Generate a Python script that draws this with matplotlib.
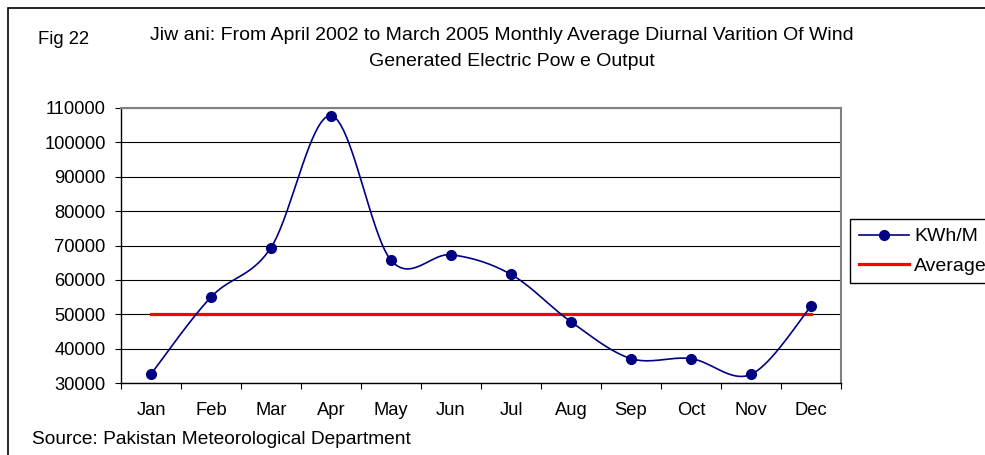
import numpy as np
import matplotlib
matplotlib.use("Agg")
import matplotlib.pyplot as plt
from matplotlib.patches import Rectangle

plt.rcParams['font.family'] = ['Liberation Sans', 'DejaVu Sans']

# data
months = ["Jan", "Feb", "Mar", "Apr", "May", "Jun",
          "Jul", "Aug", "Sep", "Oct", "Nov", "Dec"]
kwh = [32600, 55000, 69400, 107800, 65700, 67300,
       61600, 47800, 37100, 37100, 32500, 52300]
average = [50000] * 12
yticks = list(range(30000, 110001, 10000))


# Excel style smoothed line (Catmull-Rom through the points)
def smooth(x, y, n=20):
    x = np.asarray(x, float)
    y = np.asarray(y, float)
    px = np.concatenate([[x[0]], x, [x[-1]]])
    py = np.concatenate([[y[0]], y, [y[-1]]])
    xs, ys = [], []
    t = np.linspace(0, 1, n)
    for i in range(1, len(px) - 2):
        for p, out in ((px, xs), (py, ys)):
            p0, p1, p2, p3 = p[i - 1], p[i], p[i + 1], p[i + 2]
            c1 = p1 + (p2 - p0) / 6
            c2 = p2 - (p3 - p1) / 6
            out.extend((1 - t) ** 3 * p1 + 3 * (1 - t) ** 2 * t * c1
                       + 3 * (1 - t) * t ** 2 * c2 + t ** 3 * p2)
    return np.array(xs), np.array(ys)


fig = plt.figure(figsize=(9.85, 4.55), dpi=100)
ax = fig.add_axes([121 / 985, 1 - 383 / 455, 720 / 985, 275 / 455])

x = np.arange(len(months))
sx, sy = smooth(x, kwh)
ax.plot(sx, sy, color='#000080', lw=1.2, zorder=3)
ax.plot(x, kwh, 'o', color='#000080', ms=7, zorder=4)
ax.plot(x, average, color='#ff0000', lw=2.3, zorder=2)

# legend proxies
h1, = ax.plot([], [], color='#000080', lw=1.2, marker='o', ms=7)
h2, = ax.plot([], [], color='#ff0000', lw=2.3)

ax.set_xlim(-0.5, 11.5)
ax.set_ylim(30000, 110000)
ax.set_yticks(yticks)
ax.set_xticks(np.arange(-0.5, 12, 1))
ax.set_xticklabels([])
ax.set_xticks(x, minor=True)
ax.set_xticklabels(months, minor=True)
ax.tick_params(axis='x', which='major', length=4, direction='out', color='black')
ax.tick_params(axis='x', which='minor', length=0, pad=14, labelsize=13.2)
ax.tick_params(axis='y', length=4, direction='out', pad=7, labelsize=13.2)
ax.grid(axis='y', color='black', lw=0.8)
ax.set_axisbelow(True)
for s in ('top', 'right'):
    ax.spines[s].set_color('#808080')
    ax.spines[s].set_linewidth(1.5)
for s in ('left', 'bottom'):
    ax.spines[s].set_color('black')
    ax.spines[s].set_linewidth(1.0)

fig.legend([h1, h2], ["KWh/M", "Average"], loc='upper left',
           bbox_to_anchor=(850 / 985, 1 - 219 / 455), borderaxespad=0,
           fancybox=False, edgecolor='black', framealpha=1, fontsize=14,
           handlelength=2.6, handletextpad=0.25, borderpad=0.45,
           labelspacing=0.6)

# outer chart border (right and bottom edges are cut off)
fig.add_artist(Rectangle((8 / 985, -0.2), 1.2, 1.2 - 8 / 455,
                         transform=fig.transFigure, fill=False,
                         edgecolor='black', lw=1.2))

fig.text(38 / 985, 1 - 40 / 455, "Fig 22", fontsize=13.3, va='center')
fig.text(502 / 985, 1 - 35 / 455,
         "Jiw ani: From April 2002 to March 2005 Monthly Average Diurnal Varition Of Wind",
         fontsize=14, ha='center', va='center')
fig.text(512 / 985, 1 - 61 / 455, "Generated Electric Pow e Output",
         fontsize=14, ha='center', va='center')
fig.text(32 / 985, 1 - 439 / 455, "Source: Pakistan Meteorological Department",
         fontsize=13.8, va='center')

fig.savefig("out.png", dpi=100)
